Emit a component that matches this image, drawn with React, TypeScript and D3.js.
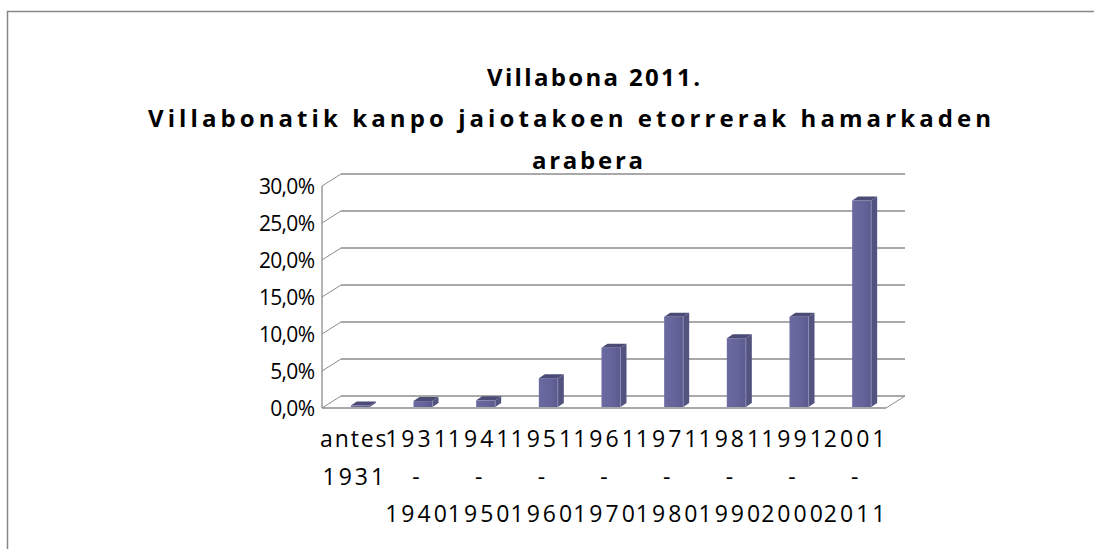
import React from "react";
import * as d3 from "d3";

const categories: string[] = [
  "antes 1931",
  "1931 - 1940",
  "1941 - 1950",
  "1951 - 1960",
  "1961 - 1970",
  "1971 - 1980",
  "1981 - 1990",
  "1991 - 2000",
  "2001 - 2011",
];
const values: number[] = [0.2, 0.8, 0.9, 3.9, 8.0, 12.2, 9.3, 12.2, 27.9];
const yTicks: number[] = [0, 5, 10, 15, 20, 25, 30];
const titleLines: string[] = [
  "Villabona 2011.",
  "Villabonatik kanpo jaiotakoen etorrerak hamarkaden",
  "arabera",
];

const W = 1094;
const H = 549;
// front plane
const x0 = 322;
const x1 = 886;
const yBase = 408;
const yTop = 186;
// depth offset
const DX = 19;
const DY = -12;

const fmt = (v: number) => v.toFixed(1).replace(".", ",") + "%";
const labelWidth = (s: string) => (/^\d+$/.test(s) ? s.length * 15.4 : s.length * 13.3);

export default function App() {
  const x = d3.scaleBand<string>().domain(categories).range([x0, x1]);
  const yFront = d3.scaleLinear().domain([0, 30]).range([yBase, yTop]);
  const yBack = (v: number) => yFront(v) + DY;
  const yBar = (v: number) => yFront(v) - 1;

  const barW = 19;
  const sideW = 6;
  const topH = 4;
  const shift = 7;

  const titleSpec = [
    { x: 487, w: 213, y: 86 },
    { x: 148, w: 843, y: 127 },
    { x: 532, w: 111, y: 169 },
  ];

  const grid = "#8c8c8c";
  const font = "'Open Sans', 'Noto Sans', sans-serif";

  return (
    <div style={{ position: "absolute", left: 0, top: 0 }}>
      <svg width={W} height={H} style={{ display: "block", background: "#fff" }}>
        <defs>
          <linearGradient id="frontG" x1="0" x2="1" y1="0" y2="0">
            <stop offset="0%" stopColor="#6a6aa0" />
            <stop offset="60%" stopColor="#64649a" />
            <stop offset="100%" stopColor="#5a5a8e" />
          </linearGradient>
        </defs>
        {/* chart frame */}
        <path d={`M7.5,${H} V11.5 H${W}`} fill="none" stroke="#868686" strokeWidth={1.5} />

        {/* title */}
        {titleLines.map((t, i) => (
          <text
            key={i}
            x={titleSpec[i].x}
            y={titleSpec[i].y}
            textLength={titleSpec[i].w}
            lengthAdjust="spacing"
            fontFamily={font}
            fontWeight="bold"
            fontSize={24}
            fill="#000"
          >
            {t}
          </text>
        ))}

        {/* gridlines: back wall + left wall diagonals */}
        {yTicks.map((t) => (
          <g key={t}>
            <line x1={x0 + DX} x2={x1 + DX} y1={yBack(t)} y2={yBack(t)} stroke={grid} strokeWidth={1.3} />
            <line x1={x0} x2={x0 + DX} y1={yFront(t)} y2={yBack(t)} stroke={grid} strokeWidth={1} />
          </g>
        ))}
        {/* left axis vertical */}
        <line x1={x0} x2={x0} y1={yFront(0)} y2={yFront(30)} stroke={grid} strokeWidth={1.3} />
        {/* floor front edge and right edge */}
        <line x1={x0} x2={x1} y1={yFront(0)} y2={yFront(0)} stroke={grid} strokeWidth={1.3} />
        <line x1={x1} x2={x1 + DX} y1={yFront(0)} y2={yBack(0)} stroke={grid} strokeWidth={1} />

        {/* bars */}
        {categories.map((c, i) => {
          const cx = (x(c) as number) + x.bandwidth() / 2 + shift;
          const l = cx - barW / 2;
          const r = cx + barW / 2;
          const b = yBar(0);
          const t = yBar(values[i]);
          return (
            <g key={c}>
              <path
                d={`M${r},${b} L${r + sideW},${b - topH} L${r + sideW},${t - topH} L${r},${t} Z`}
                fill="#53537f"
              />
              <path
                d={`M${l},${t} L${r},${t} L${r + sideW},${t - topH} L${l + sideW},${t - topH} Z`}
                fill="#4b4b76"
              />
              <rect x={l} y={t} width={barW} height={Math.max(0, b - t)} fill="url(#frontG)" />
              <line x1={r} x2={r} y1={t} y2={b} stroke="#8e8eb8" strokeWidth={0.8} />
            </g>
          );
        })}

        {/* y labels */}
        {yTicks.map((t) => {
          const s = fmt(t);
          const w = s.length * 11.2;
          return (
            <text
              key={t}
              x={315 - w}
              y={yFront(t) + 7.5}
              textLength={w}
              lengthAdjust="spacing"
              fontFamily={font}
              fontSize={21}
              fill="#000"
            >
              {s}
            </text>
          );
        })}

        {/* x labels */}
        {categories.map((c) => {
          const cx = (x(c) as number) + x.bandwidth() / 2;
          const lines = c.split(" ");
          return lines.map((ln, j) => {
            const w = labelWidth(ln);
            return (
              <text
                key={c + j}
                x={ln.length > 1 ? cx - w / 2 : cx}
                y={447 + j * 37.5}
                textAnchor={ln.length > 1 ? "start" : "middle"}
                textLength={ln.length > 1 ? w : undefined}
                lengthAdjust="spacing"
                fontFamily={font}
                fontSize={23}
                fill="#000"
              >
                {ln}
              </text>
            );
          });
        })}
      </svg>
    </div>
  );
}
